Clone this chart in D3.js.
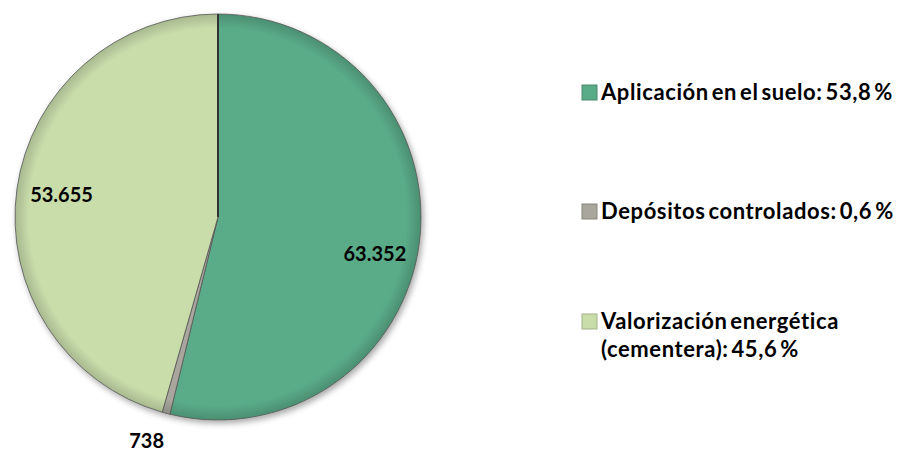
<!DOCTYPE html>
<html>
<head>
<meta charset="utf-8">
<script src="https://cdn.jsdelivr.net/npm/d3@7"></script>
<style>
  body { margin: 0; background: #fff; }
  text { font-family: Lato, "Open Sans", sans-serif; font-weight: bold; }
</style>
</head>
<body>
<div id="chart"></div>
<script>
// Data
const categories = ["Aplicación en el suelo", "Depósitos controlados", "Valorización energética (cementera)"];
const values = [63352, 738, 53655];
const valueLabels = ["63.352", "738", "53.655"];
const legendLabels = [["Aplicación en el suelo: 53,8 %"], ["Depósitos controlados: 0,6 %"], ["Valorización energética", "(cementera): 45,6 %"]];
const colorsList = ["#5aab88", "#a9a79d", "#c9ddab"];

const width = 899, height = 452;
const cx = 218, cy = 217, radius = 203;

const svg = d3.select("#chart").append("svg")
    .attr("width", width)
    .attr("height", height);

const defs = svg.append("defs");
// soft shadow
const filter = defs.append("filter").attr("id", "shadow").attr("x", "-10%").attr("y", "-10%").attr("width", "120%").attr("height", "120%");
filter.append("feGaussianBlur").attr("in", "SourceAlpha").attr("stdDeviation", 3);
filter.append("feOffset").attr("dx", 2).attr("dy", 3).attr("result", "ob");
filter.append("feComponentTransfer").append("feFuncA").attr("type", "linear").attr("slope", 0.35);
const merge = filter.append("feMerge");
merge.append("feMergeNode");
merge.append("feMergeNode").attr("in", "SourceGraphic");

// bevel-ish gradient per slice color
colorsList.forEach((c, i) => {
    const g = defs.append("radialGradient").attr("id", "grad" + i)
        .attr("gradientUnits", "userSpaceOnUse")
        .attr("cx", 0).attr("cy", 0).attr("r", radius);
    g.append("stop").attr("offset", "0%").attr("stop-color", c);
    g.append("stop").attr("offset", "93%").attr("stop-color", c);
    g.append("stop").attr("offset", "100%").attr("stop-color", d3.color(c).darker(0.5));
});

const pie = d3.pie().sort(null).value(d => d);
const arcs = pie(values);

const arc = d3.arc().innerRadius(0).outerRadius(radius);
const labelArc = d3.arc().innerRadius(158).outerRadius(158);
const outerLabelArc = d3.arc().innerRadius(232).outerRadius(232);

const g = svg.append("g").attr("transform", `translate(${cx},${cy})`);

g.append("g").attr("filter", "url(#shadow)")
    .selectAll("path")
    .data(arcs)
    .enter().append("path")
    .attr("d", arc)
    .attr("fill", (d, i) => `url(#grad${i})`)
    .attr("stroke", "#555")
    .attr("stroke-width", 0.8);

// top divider line
g.append("line")
    .attr("x1", 0).attr("y1", 0)
    .attr("x2", 0).attr("y2", -radius)
    .attr("stroke", "#333")
    .attr("stroke-width", 2);

// value labels
g.selectAll("text.val")
    .data(arcs)
    .enter().append("text")
    .attr("class", "val")
    .attr("transform", (d, i) => {
        const p = i === 1 ? outerLabelArc.centroid(d) : labelArc.centroid(d);
        if (i === 0) p[1] += 18;
        if (i === 1) p[0] -= 12;
        return `translate(${p})`;
    })
    .attr("text-anchor", "middle")
    .attr("dy", "0.35em")
    .attr("font-size", 20)
    .attr("font-weight", 900)
    .attr("fill", "#000")
    .text((d, i) => valueLabels[i]);

// legend
const legendY = [92, 211, 321];
const legend = svg.append("g")
    .selectAll("g")
    .data(categories)
    .enter().append("g")
    .attr("transform", (d, i) => `translate(582,${legendY[i]})`);

legend.append("rect")
    .attr("x", 0).attr("y", -7)
    .attr("width", 15).attr("height", 15)
    .attr("fill", (d, i) => colorsList[i])
    .attr("stroke", (d, i) => d3.color(colorsList[i]).darker(0.6))
    .attr("stroke-width", 1);

legend.append("text")
    .attr("x", 19)
    .attr("font-size", 22)
    .attr("font-weight", 900)
    .attr("letter-spacing", 0.6)
    .attr("word-spacing", -3)
    .attr("fill", "#000")
    .selectAll("tspan")
    .data((d, i) => legendLabels[i])
    .enter().append("tspan")
    .attr("x", 19)
    .attr("dy", (d, j) => j === 0 ? "0.35em" : "1.27em")
    .text(d => d);
</script>
</body>
</html>
